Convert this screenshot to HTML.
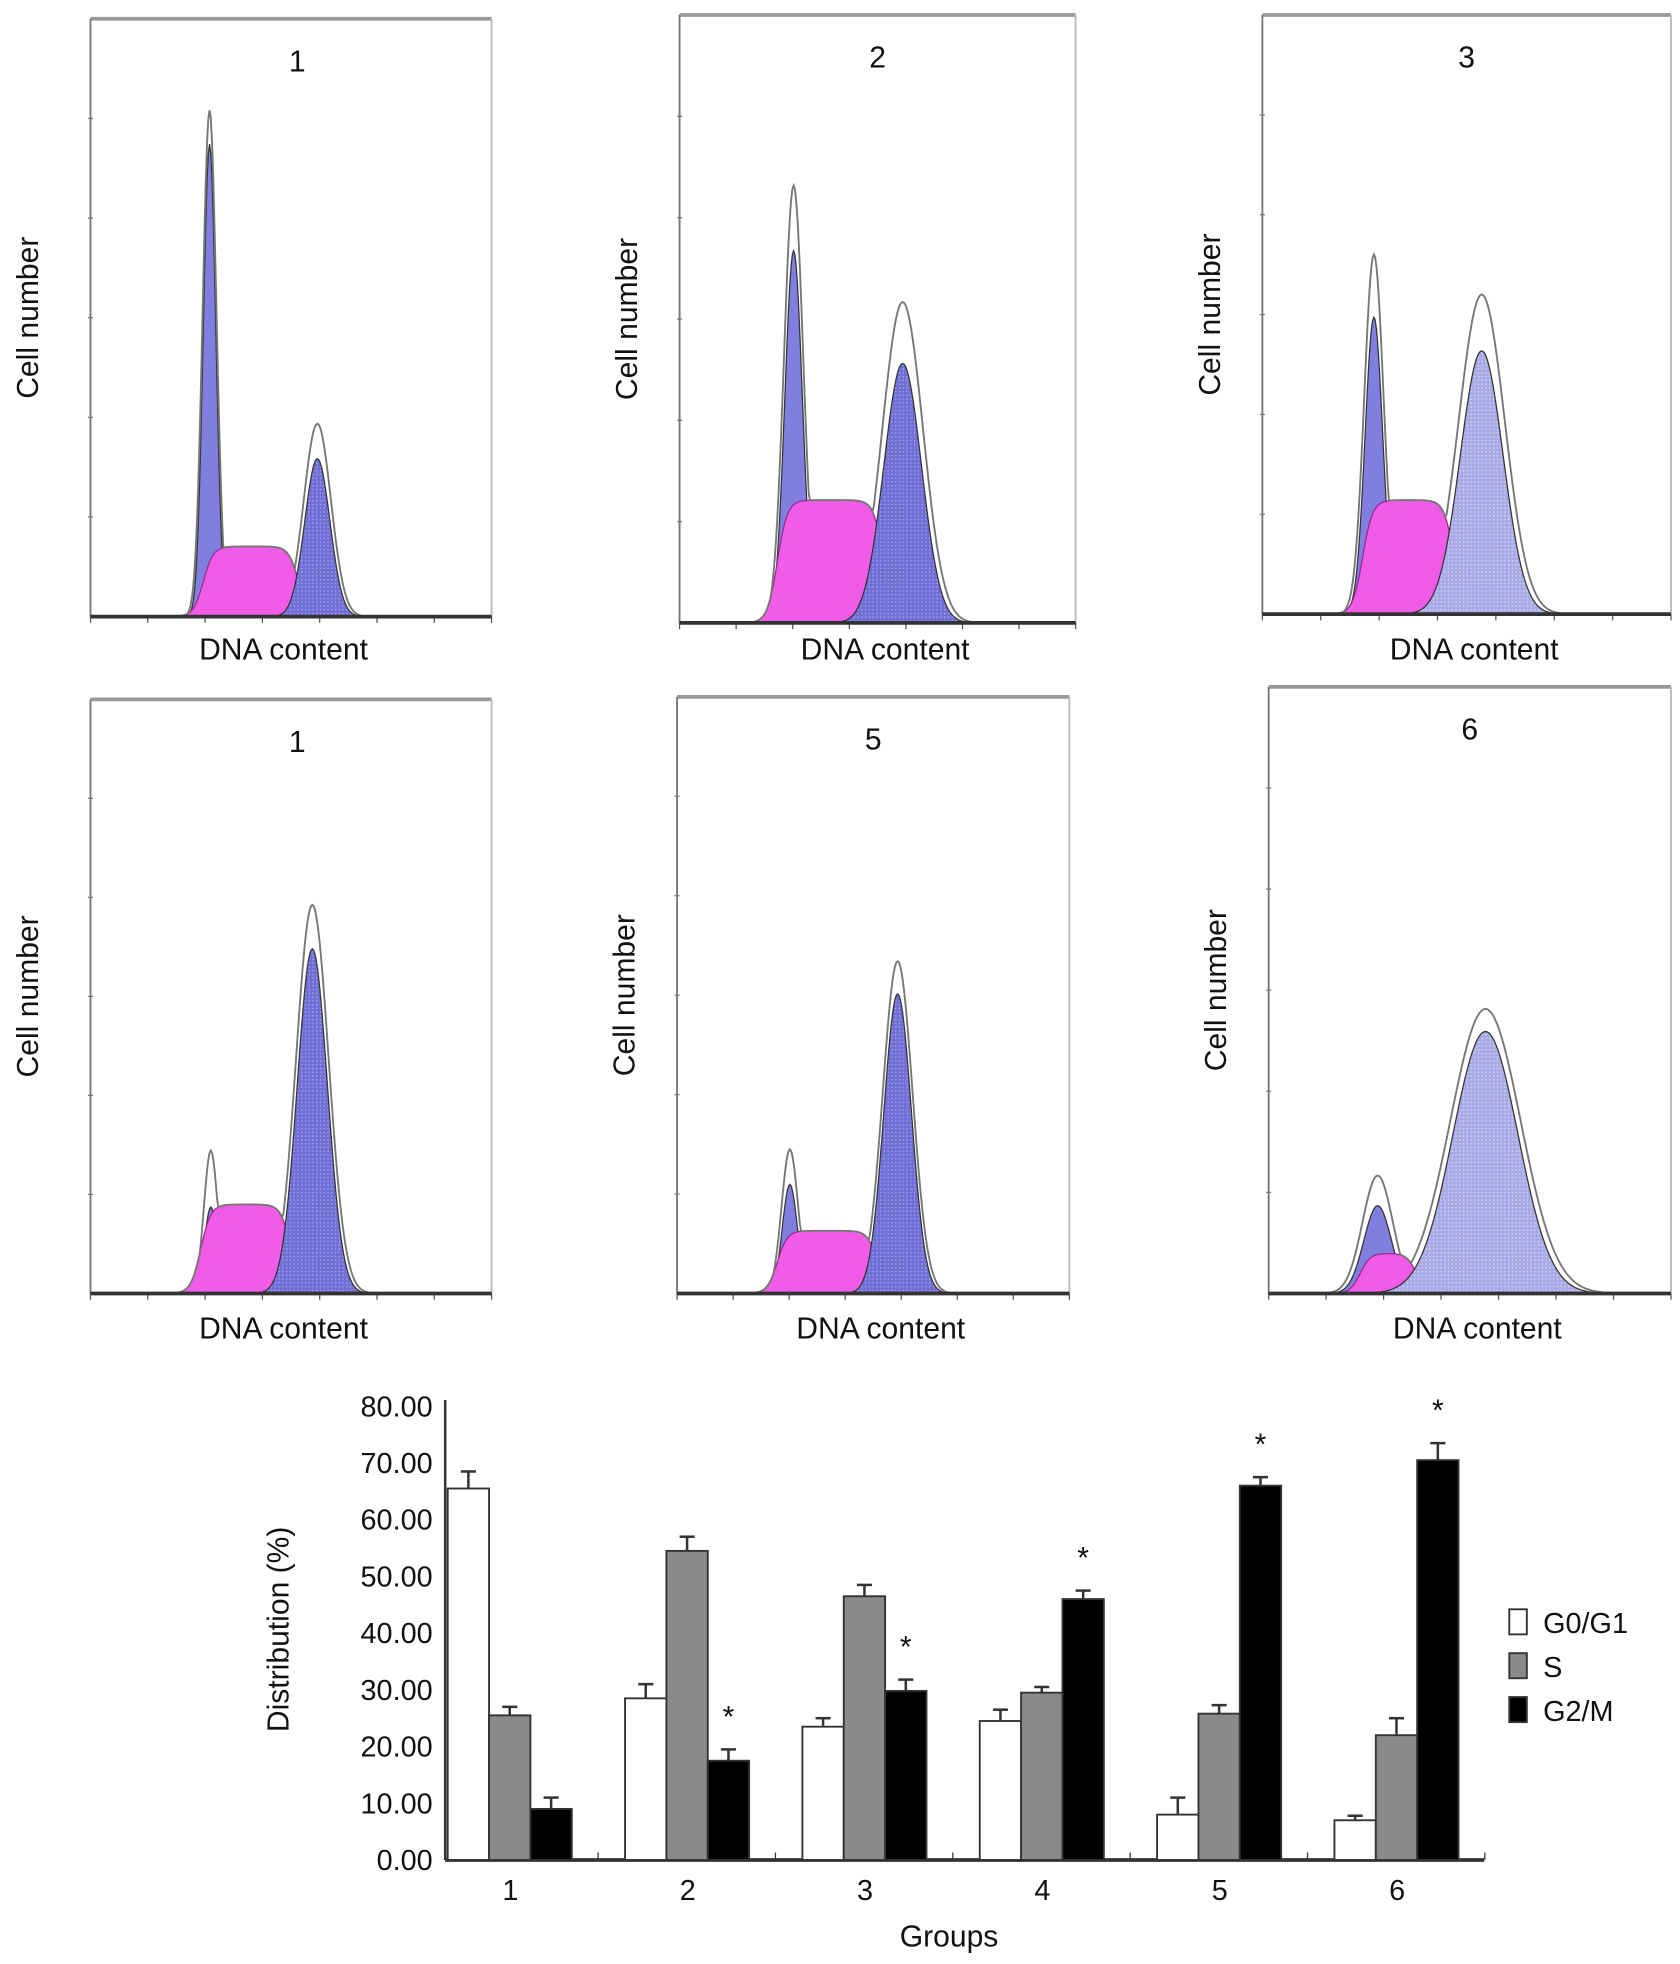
<!DOCTYPE html>
<html><head><meta charset="utf-8"><style>
html,body{margin:0;padding:0;background:#fff}
svg{display:block}
text{font-family:"Liberation Sans",sans-serif;fill:#111}
</style></head><body>
<svg id="fig" width="1680" height="1964" viewBox="0 0 1340 1567">
<defs>
<pattern id="dots" width="3" height="3" patternUnits="userSpaceOnUse"><rect width="3" height="3" fill="#6f6fd6"/><rect width="1" height="1" fill="#b0b0ee"/></pattern>
<pattern id="dotsL" width="3" height="3" patternUnits="userSpaceOnUse"><rect width="3" height="3" fill="#a9a9e6"/><rect width="1" height="1" fill="#e0e0f8"/></pattern>
</defs>
<g id="hists"></g>
<g id="bars"></g>
</svg>
<script>
const NS='http://www.w3.org/2000/svg';
function mk(tag,attrs,parent){const e=document.createElementNS(NS,tag);for(const k in attrs)e.setAttribute(k,attrs[k]);parent.appendChild(e);return e;}
// ---- histogram panels ----
const panelTitles=['1','2','3','1','5','6'];
const panelBoxes=[[72,15,392,492],[542,12,858,497],[1007,12,1333,490],[72,558,392,1032],[540,556,853,1032],[1012,548,1333,1032]];
const g1Pos=[167,633,1096,168,630,1099];
const g1Top=[115,200,253,963,945,962];
const g1OutTop=[88,148,203,918,917,938];
const g1Wid=[5,7,7,5,6,11];
const sStart=[162,620,1087,160,620,1085];
const sEnd=[238,705,1160,232,700,1130];
const sTop=[436,399,399,961,982,1000];
const g2Pos=[253,720,1182,249,716,1185];
const g2Top=[366,290,280,757,793,823];
const g2OutTop=[338,241,235,722,767,805];
const g2Wid=[10,15,17,12,11,26];
const hg=document.getElementById('hists');
function gauss(x,c,w){return Math.exp(-0.5*((x-c)/w)**2);}
function sPlateau(x,a,b){const k=4;return 1/(1+Math.exp(-(x-a)/k))*1/(1+Math.exp((x-b)/k));}
panelTitles.forEach((t,i)=>{
  const [l,tp,r,b]=panelBoxes[i];
  const g=mk('g',{},hg);
  
  
  mk('line',{x1:l,y1:tp,x2:r,y2:tp,stroke:'#999',"stroke-width":3},g);
  mk('line',{x1:r,y1:tp,x2:r,y2:b,stroke:'#bbb',"stroke-width":1.5},g);
  mk('line',{x1:l,y1:tp,x2:l,y2:b,stroke:'#777',"stroke-width":1.5},g);
  for(let k=1;k<6;k++){const y=b-(b-tp)*k/6; mk('line',{x1:l-2,y1:y,x2:l+2,y2:y,stroke:'#777'},g);}
  for(let k=0;k<8;k++){const x=l+(r-l)*k/7; mk('line',{x1:x,y1:b,x2:x,y2:b+5,stroke:'#555'},g);}
  const H=b;
  const A1=H-g1Top[i],A2=H-g2Top[i],AS=H-sTop[i],AO1=H-g1OutTop[i],AO2=H-g2OutTop[i];
  const xs=[];for(let x=l+1;x<r;x+=1)xs.push(x);
  const path=(f)=>'M'+l+','+H+xs.map(x=>'L'+x+','+(H-f(x)).toFixed(1)).join('')+'L'+r+','+H+'Z';
  const p1=mk('path',{d:path(x=>A1*gauss(x,g1Pos[i],g1Wid[i])),fill:'#7f7fe0',stroke:'#333',"stroke-width":1},g);
  
  const s=mk('path',{d:path(x=>AS*sPlateau(x,sStart[i],sEnd[i])),fill:'#f05ce8',stroke:'#9a2a8a',"stroke-width":1},g);
  
  const p2=mk('path',{d:path(x=>A2*gauss(x,g2Pos[i],g2Wid[i])),fill:(i==2||i==5)?'url(#dotsL)':'url(#dots)',stroke:'#333',"stroke-width":1},g);
  
  const o=mk('path',{d:path(x=>Math.max(AO1*gauss(x,g1Pos[i],g1Wid[i]*1.1),AO2*gauss(x,g2Pos[i],g2Wid[i]*1.08),AS*sPlateau(x,sStart[i],sEnd[i]))),fill:'none',stroke:'#777',"stroke-width":1.5},g);
  
  mk('line',{x1:l,y1:b,x2:r,y2:b,stroke:'#333',"stroke-width":3},g);
  const tt=mk('text',{x:(l+r)/2+(i%3==0?5:0),y:tp+42,"font-size":24,"text-anchor":"middle"},g);tt.textContent=t;
  
  const xl=mk('text',{x:(l+r)/2-(i%3==0?6:-6),y:tp>500?1068:526,"font-size":24,"text-anchor":"middle"},g);xl.textContent='DNA content';
  
  const cy=(tp+b)/2;const lx=(i%3==0)?30:l-34;const yl=mk('text',{x:lx,y:cy,"font-size":24,"text-anchor":"middle",transform:'rotate(-90 '+lx+' '+cy+')'},g);yl.textContent='Cell number';
  
});
// ---- bar chart ----
const groups=['1','2','3','4','5','6'];
const g0Vals=[65.5,28.5,23.5,24.5,8,7];
const sVals=[25.5,54.5,46.5,29.5,25.8,22];
const g2mVals=[9,17.5,29.8,46,66,70.5];
const g0Err=[3,2.5,1.5,2,3,0.8];
const sErr=[1.5,2.5,2,1,1.5,3];
const g2mErr=[2,2,2,1.5,1.5,3];
const g2mStar=[false,true,true,true,true,true];
const yTicks=['0.00','10.00','20.00','30.00','40.00','50.00','60.00','70.00','80.00'];
const seriesNames=['G0/G1','S','G2/M'];
const bg=document.getElementById('bars');
const X0=355,X1=1184,Y0=1484,Y80=1122;
const yS=v=>Y0-(Y0-Y80)*v/80;
const xC=i=>407+i*141.5;
mk('line',{x1:X0,y1:Y80-5,x2:X0,y2:Y0,stroke:'#333',"stroke-width":2},bg);
mk('line',{x1:X0,y1:Y0,x2:X1,y2:Y0,stroke:'#333',"stroke-width":3},bg);
yTicks.forEach((t,k)=>{const v=k*10;
  const tl=mk('text',{x:345,y:yS(v)+8,"font-size":23,"text-anchor":"end"},bg);tl.textContent=t;
  });
groups.forEach((gname,i)=>{
  const tl=mk('text',{x:xC(i),y:1516,"font-size":23,"text-anchor":"middle"},bg);tl.textContent=gname;
  
  mk('line',{x1:xC(i)+70,y1:Y0,x2:xC(i)+70,y2:Y0-6,stroke:'#333'},bg);
  const sets=[[g0Vals,g0Err,'#fff',-50,'g0g1'],[sVals,sErr,'#8a8a8a',-17,'s'],[g2mVals,g2mErr,'#000',16,'g2m']];
  sets.forEach(([vals,errs,fill,off,nm])=>{
    const v=vals[i],x=xC(i)+off,w=33;
    const r=mk('rect',{x:x,y:yS(v),width:w,height:Y0-yS(v),fill:fill,stroke:'#333',"stroke-width":1.5},bg);
    
    
    const cx=x+w/2,ye=yS(v+errs[i]);
    mk('line',{x1:cx,y1:yS(v),x2:cx,y2:ye,stroke:'#333',"stroke-width":2},bg);
    mk('line',{x1:cx-6,y1:ye,x2:cx+6,y2:ye,stroke:'#333',"stroke-width":2},bg);
    if(nm==='g2m'&&g2mStar[i]){const st=mk('text',{x:cx,y:ye-18,"font-size":24,"text-anchor":"middle",fill:'#333'},bg);st.textContent='*';
      }
  });
});
const gt=mk('text',{x:757,y:1553,"font-size":24,"text-anchor":"middle"},bg);gt.textContent='Groups';

const yt=mk('text',{x:230,y:1300,"font-size":24,"text-anchor":"middle",transform:'rotate(-90 230 1300)'},bg);yt.textContent='Distribution (%)';

const lfills=['#fff','#8a8a8a','#000'];
seriesNames.forEach((n,k)=>{const y=1284+k*35;
  const lg=mk('g',{},bg);
  mk('rect',{x:1204,y:y,width:14,height:20,fill:lfills[k],stroke:'#333',"stroke-width":1.5},lg);
  const t=mk('text',{x:1231,y:y+19,"font-size":23},lg);t.textContent=n;});
</script>
</body></html>
